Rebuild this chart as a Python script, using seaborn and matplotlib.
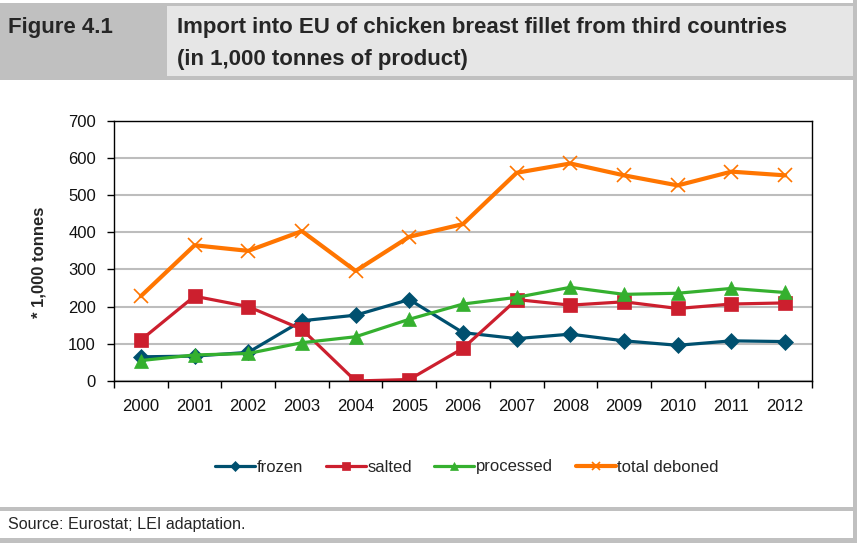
import matplotlib
matplotlib.use("Agg")
import matplotlib.pyplot as plt
import seaborn as sns
import pandas as pd
from matplotlib.patches import Rectangle
from matplotlib.ticker import MultipleLocator, FixedLocator, NullFormatter

# ---- data ----
years = [2000, 2001, 2002, 2003, 2004, 2005, 2006, 2007, 2008, 2009, 2010, 2011, 2012]
frozen = [65, 67, 77, 162, 177, 219, 130, 114, 126, 108, 96, 108, 106]
salted = [110, 228, 200, 139, 0, 4, 88, 219, 204, 213, 195, 207, 210]
processed = [55, 70, 74, 103, 119, 166, 207, 225, 252, 233, 236, 249, 238]
total_deboned = [228, 365, 350, 403, 296, 388, 422, 560, 585, 553, 526, 563, 553]

series_names = ["frozen", "salted", "processed", "total deboned"]
series_values = [frozen, salted, processed, total_deboned]

title_label = "Figure 4.1"
title_lines = ["Import into EU of chicken breast fillet from third countries",
               "(in 1,000 tonnes of product)"]
y_label = "* 1,000 tonnes"
source_text = "Source: Eurostat; LEI adaptation."

# ---- styles ----
colors = {"frozen": "#00506f", "salted": "#cc1f2e", "processed": "#35b02f",
          "total deboned": "#ff7500"}
markers = {"frozen": "D", "salted": "s", "processed": "^", "total deboned": "x"}
msizes = {"frozen": 8, "salted": 10, "processed": 10.5, "total deboned": 10}
lwidths = {"frozen": 2.3, "salted": 2.3, "processed": 2.3, "total deboned": 3.0}

sns.set_style("white")
plt.rcParams["font.family"] = ["Liberation Sans", "DejaVu Sans"]

W, H = 857, 543
fig = plt.figure(figsize=(W / 100, H / 100), dpi=100)


def frect(x0, y0, x1, y1, color, z=0):
    r = Rectangle((x0 / W, 1 - y1 / H), (x1 - x0) / W, (y1 - y0) / H,
                  transform=fig.transFigure, facecolor=color, edgecolor="none",
                  zorder=z)
    fig.add_artist(r)


# header / frame
frect(0, 3, 857, 80, "#c0c0c0")
frect(167, 6, 853, 76, "#e6e6e6")
frect(853, 0, 857, 543, "#c0c0c0")
frect(0, 507, 857, 511, "#c0c0c0")
frect(0, 538, 857, 543, "#c0c0c0")

hfont = ["Liberation Sans", "DejaVu Sans"]
fig.text(8 / W, 1 - 28 / H, title_label, family=hfont, fontweight="bold",
         fontsize=16, va="center", ha="left")
fig.text(177 / W, 1 - 28 / H, title_lines[0], family=hfont, fontweight="bold",
         fontsize=16, va="center", ha="left")
fig.text(177 / W, 1 - 60 / H, title_lines[1], family=hfont, fontweight="bold",
         fontsize=16, va="center", ha="left")
fig.text(8 / W, 1 - 524 / H, source_text, family=hfont, fontsize=11.6,
         va="center", ha="left")

# ---- axes ----
ax = fig.add_axes([114 / W, 1 - 381 / H, (812 - 114) / W, (381 - 120.7) / H])

for name, vals in zip(series_names, series_values):
    df = pd.DataFrame({"year": years, "value": vals})
    sns.lineplot(data=df, x="year", y="value", ax=ax, color=colors[name],
                 marker=markers[name], markersize=msizes[name],
                 markeredgecolor=colors[name],
                 markeredgewidth=1.2 if name == "total deboned" else 0.5,
                 linewidth=lwidths[name], label=name)

ax.set_xlim(years[0] - 0.5, years[-1] + 0.5)
ax.set_ylim(0, 700)
ax.yaxis.set_major_locator(MultipleLocator(100))
ax.grid(axis="y", color="#bdbdbd", linewidth=1.5)
ax.set_axisbelow(True)

# x: ticks at category boundaries, labels at category centres
ax.xaxis.set_major_locator(FixedLocator([y - 0.5 for y in years] + [years[-1] + 0.5]))
ax.xaxis.set_major_formatter(NullFormatter())
ax.set_xticks(years, minor=True)
ax.set_xticklabels([str(y) for y in years], minor=True)
ax.tick_params(axis="x", which="major", direction="out", length=5, width=1,
               color="black", bottom=True)
ax.tick_params(axis="x", which="minor", length=0, pad=13, labelsize=12,
               labelcolor="#111111")
ax.tick_params(axis="y", direction="out", length=5, width=1, color="black",
               left=True, pad=8, labelsize=12, labelcolor="#111111")

for s in ax.spines.values():
    s.set_visible(True)
    s.set_color("black")
    s.set_linewidth(1.0)

ax.set_xlabel("")
ax.set_ylabel(y_label, fontsize=12, fontweight="bold")
ax.yaxis.set_label_coords(-0.097, 0.457)

handles, labels = ax.get_legend_handles_labels()
ax.legend(handles, labels, loc="center", bbox_to_anchor=(467 / W, 1 - 467 / H),
          bbox_transform=fig.transFigure, ncol=4, frameon=False, fontsize=12,
          handlelength=2.4, handletextpad=0.1, columnspacing=1.35,
          markerscale=0.6)

fig.savefig("out.png", dpi=100)
